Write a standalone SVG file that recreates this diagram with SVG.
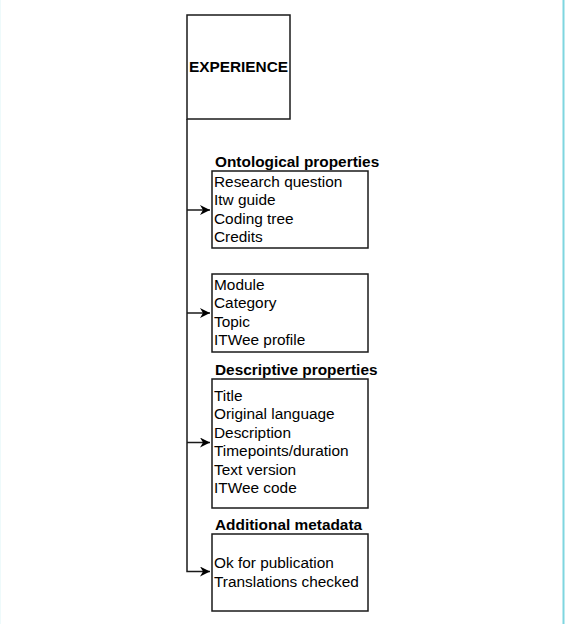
<svg xmlns="http://www.w3.org/2000/svg" width="566" height="624" viewBox="0 0 566 624">
<style>
.box{fill:#fff;stroke:#1a1a1a;stroke-width:1.5}
.t{font-family:"Liberation Sans",Arial,sans-serif;font-size:15.4px;fill:#000}
.b{font-weight:bold}
.c{fill:none;stroke:#1a1a1a;stroke-width:1.5}
</style>
<defs>
<marker id="ah" markerWidth="12" markerHeight="12" refX="10" refY="5" orient="auto" markerUnits="userSpaceOnUse">
<path d="M0,0 L10,5 L0,10 L3,5 Z" fill="#000"/>
</marker>
</defs>
<rect x="0" y="0" width="566" height="624" fill="#fff"/>
<line x1="0.5" y1="0" x2="0.5" y2="624" stroke="#eefafb" stroke-width="1"/>
<line x1="563.5" y1="0" x2="563.5" y2="624" stroke="#7fd6e0" stroke-width="2"/>
<g id="connectors">
<path class="c" d="M187,119 V571.5 H210" marker-end="url(#ah)"/>
<path class="c" d="M187,210 H210" marker-end="url(#ah)"/>
<path class="c" d="M187,313 H210" marker-end="url(#ah)"/>
<path class="c" d="M187,442.5 H210" marker-end="url(#ah)"/>
</g>
<g id="experience">
<rect class="box" x="187" y="15" width="103" height="104"/>
<text class="t b" x="238.5" y="72" text-anchor="middle">EXPERIENCE</text>
</g>
<g id="ontological">
<text class="t b" x="215" y="167">Ontological properties</text>
<rect class="box" x="212" y="171" width="156" height="77"/>
<text class="t" x="214" y="187">Research question</text>
<text class="t" x="214" y="205.3">Itw guide</text>
<text class="t" x="214" y="223.6">Coding tree</text>
<text class="t" x="214" y="241.9">Credits</text>
</g>
<g id="module">
<rect class="box" x="212" y="274" width="156" height="78"/>
<text class="t" x="214" y="290">Module</text>
<text class="t" x="214" y="308.3">Category</text>
<text class="t" x="214" y="326.6">Topic</text>
<text class="t" x="214" y="344.9">ITWee profile</text>
</g>
<g id="descriptive">
<text class="t b" x="215" y="375">Descriptive properties</text>
<rect class="box" x="212" y="379" width="156" height="129"/>
<text class="t" x="214" y="400.5">Title</text>
<text class="t" x="214" y="419">Original language</text>
<text class="t" x="214" y="437.5">Description</text>
<text class="t" x="214" y="456">Timepoints/duration</text>
<text class="t" x="214" y="474.5">Text version</text>
<text class="t" x="214" y="493">ITWee code</text>
</g>
<g id="additional">
<text class="t b" x="215" y="530">Additional metadata</text>
<rect class="box" x="212" y="534" width="156" height="77"/>
<text class="t" x="214" y="568">Ok for publication</text>
<text class="t" x="214" y="586.5">Translations checked</text>
</g>
</svg>
